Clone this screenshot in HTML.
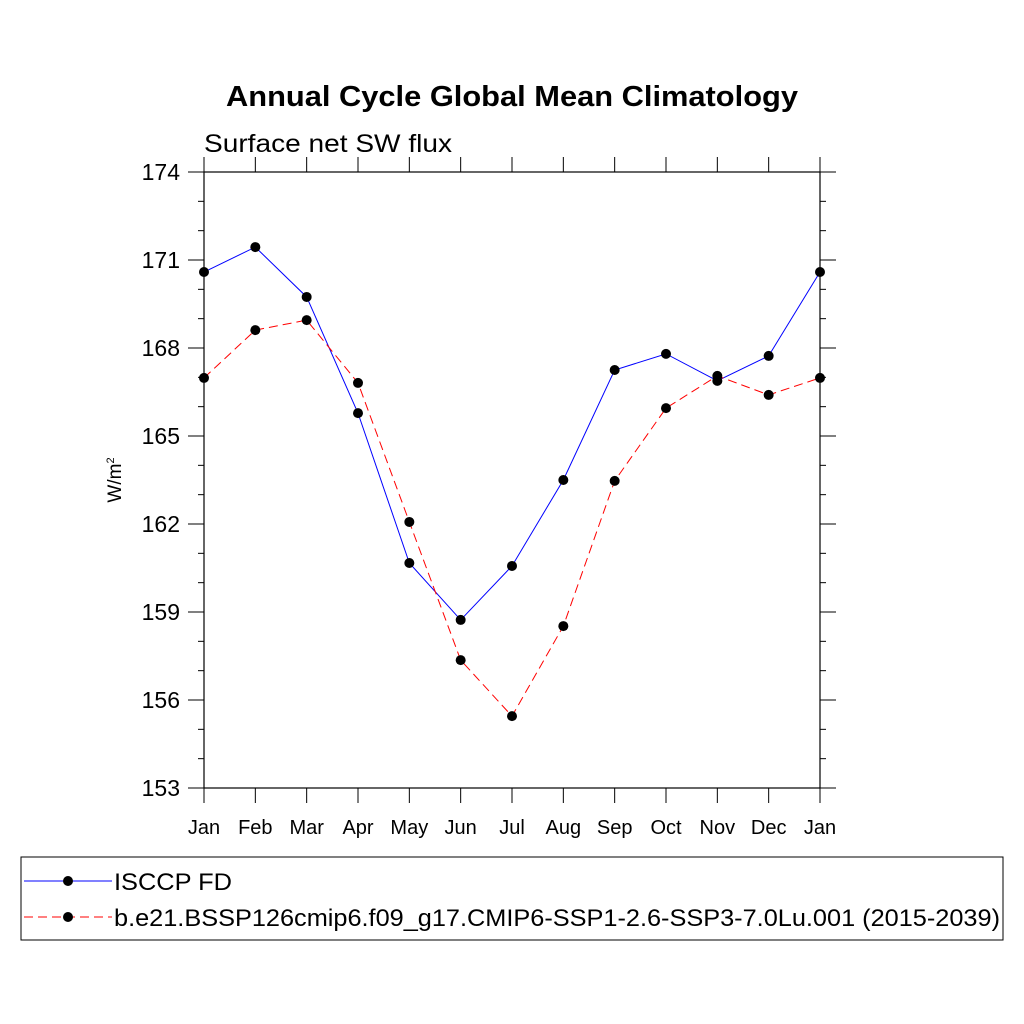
<!DOCTYPE html>
<html><head><meta charset="utf-8"><style>
body{margin:0;background:#fff}
svg{display:block;font-family:"Liberation Sans",sans-serif}
</style></head><body>
<svg width="1024" height="1024" id="svg">
<rect width="1024" height="1024" fill="#fff"/>
<text x="512" y="106" text-anchor="middle" font-size="29" font-weight="bold" textLength="572" lengthAdjust="spacingAndGlyphs">Annual Cycle Global Mean Climatology</text>
<text x="204" y="152" font-size="25" textLength="248" lengthAdjust="spacingAndGlyphs">Surface net SW flux</text>
<text transform="translate(121,480) rotate(-90)" text-anchor="middle" font-size="19">W/m<tspan font-size="11" dy="-7">2</tspan></text>
<g id="axes"></g>
<g id="series"></g>
<rect x="21" y="857" width="982" height="83" fill="none" stroke="#000" stroke-width="1"/>
<g>
<line x1="24" y1="881" x2="112" y2="881" stroke="#00f" stroke-width="1"/>
<circle cx="68" cy="881" r="5" fill="#000"/>
<text x="114" y="890" font-size="24" textLength="118" lengthAdjust="spacingAndGlyphs">ISCCP FD</text>
</g>
<g>
<line x1="24" y1="917" x2="112" y2="917" stroke="#f00" stroke-width="1" stroke-dasharray="9,5"/>
<circle cx="68" cy="917" r="5" fill="#000"/>
<text x="114" y="926" font-size="24" textLength="886" lengthAdjust="spacingAndGlyphs">b.e21.BSSP126cmip6.f09_g17.CMIP6-SSP1-2.6-SSP3-7.0Lu.001 (2015-2039)</text>
</g>
</svg>
<script>
const months=["Jan","Feb","Mar","Apr","May","Jun","Jul","Aug","Sep","Oct","Nov","Dec","Jan"];
const yTicks=[153,156,159,162,165,168,171,174];
const obsValues=[170.59,171.44,169.74,165.78,160.67,158.73,160.57,163.5,167.25,167.8,166.88,167.73,170.59];
const modelValues=[166.98,168.61,168.95,166.81,162.07,157.36,155.45,158.52,163.47,165.95,167.05,166.40,166.98];
const X0=204,X1=820,Y0=172,Y1=788,YMIN=153,YMAX=174;
const xs=i=>X0+(X1-X0)*i/(months.length-1);
const ys=v=>Y1-(v-YMIN)/(YMAX-YMIN)*(Y1-Y0);
const NS="http://www.w3.org/2000/svg";
function mk(tag,attrs,parent){const e=document.createElementNS(NS,tag);for(const k in attrs)e.setAttribute(k,attrs[k]);parent.appendChild(e);return e;}
const ax=document.getElementById('axes');
const fr=mk('rect',{x:X0,y:Y0,width:X1-X0,height:Y1-Y0,fill:'none',stroke:'#000','stroke-width':1.2},ax);


for(let v=YMIN;v<=YMAX;v++){
  const major=yTicks.includes(v);const L=major?16:6;const y=ys(v);
  mk('line',{x1:X0-L,y1:y,x2:X0,y2:y,stroke:'#000'},ax);
  mk('line',{x1:X1,y1:y,x2:X1+L,y2:y,stroke:'#000'},ax);
}
yTicks.forEach(v=>{const t=mk('text',{x:X0-24,y:ys(v)+8,'text-anchor':'end','font-size':23},ax);t.textContent=v;

});
months.forEach((m,i)=>{const x=xs(i);
  mk('line',{x1:x,y1:Y0-15,x2:x,y2:Y0,stroke:'#000'},ax);
  mk('line',{x1:x,y1:Y1,x2:x,y2:Y1+15,stroke:'#000'},ax);
  const t=mk('text',{x:x,y:834,'text-anchor':'middle','font-size':20},ax);t.textContent=m;
  
  
});
const sg=document.getElementById('series');
function series(vals,color,dash,name){
  const g=mk('g',{},sg);
  
  
  mk('polyline',{points:vals.map((v,i)=>xs(i)+','+ys(v)).join(' '),fill:'none',stroke:color,'stroke-width':1,'stroke-dasharray':dash},g);
  vals.forEach((v,i)=>{const c=mk('circle',{cx:xs(i),cy:ys(v),r:5,fill:'#000'},g);
    
    });
}
series(obsValues,'#00f','none','series-isccp-fd');
series(modelValues,'#f00','9,5','series-model');
</script>
</body></html>
